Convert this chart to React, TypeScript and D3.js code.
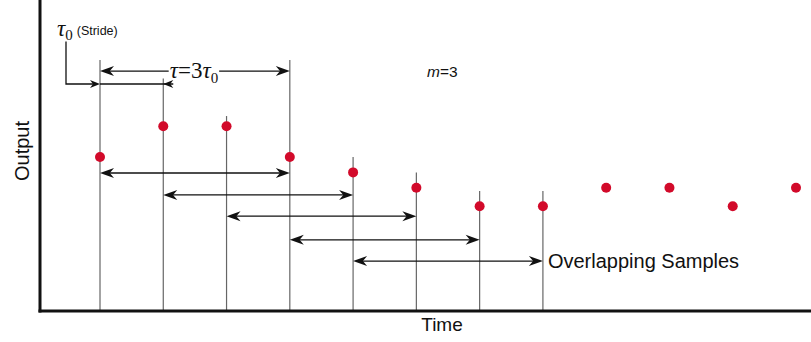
import React, { useEffect, useRef } from 'react';
import * as d3 from 'd3';

// time steps (in units of the stride tau0) and the sampled output
const timeSteps = [1, 2, 3, 4, 5, 6, 7, 8, 9, 10, 11, 12];
const outputs = [5.0, 6.0, 6.0, 5.0, 4.5, 4.0, 3.4, 3.4, 4.0, 4.0, 3.4, 4.0];
// top of the sample stems (output units), only the first eight samples have one
const stemTops = [8.15, 7.55, 6.33, 8.15, 5.0, 4.5, 3.9, 3.9];
// overlapping windows: start step and level of the arrow
const windowStarts = [1, 2, 3, 4, 5];
const windowLevels = [4.48, 3.77, 3.08, 2.31, 1.62];
const m = 3;
const strideLevel = 7.37;
const tauLevel = 7.79;

const W = 811;
const H = 342;

function App() {
  const svgRef = useRef<SVGSVGElement>(null);

  useEffect(() => {
    const svg = d3.select(svgRef.current);
    svg.selectAll('*').remove();

    const axisLeftX = 40;
    const axisBottomY = 311;

    const xScale = d3.scaleLinear().domain([1, 12]).range([100, 796]);
    const yScale = d3.scaleLinear().domain([0, 10]).range([axisBottomY, 3]);

    const black = '#111';
    const sans = '"Liberation Sans", Arial, sans-serif';
    const serif = '"Liberation Serif", serif';

    // arrowhead with a notch, tip at (x,y), dir = 1 right / -1 left
    const head = (x: number, y: number, dir: number, len = 14, half = 5) => {
      const p = d3.path();
      p.moveTo(x, y);
      p.lineTo(x - dir * len, y - half);
      p.lineTo(x - dir * len * 0.7, y);
      p.lineTo(x - dir * len, y + half);
      p.closePath();
      svg.append('path').attr('d', p.toString()).attr('fill', black);
    };

    // stems
    svg.append('g')
      .selectAll('line')
      .data(stemTops)
      .join('line')
      .attr('x1', (d, i) => xScale(timeSteps[i]))
      .attr('x2', (d, i) => xScale(timeSteps[i]))
      .attr('y1', d => yScale(d))
      .attr('y2', axisBottomY)
      .attr('stroke', '#666')
      .attr('stroke-width', 1.2);

    // overlapping windows
    windowStarts.forEach((s, i) => {
      const x1 = xScale(s);
      const x2 = xScale(s + m);
      const y = yScale(windowLevels[i]);
      svg.append('line')
        .attr('x1', x1 + 4).attr('x2', x2 - 4)
        .attr('y1', y).attr('y2', y)
        .attr('stroke', black).attr('stroke-width', 1.3);
      head(x1, y, -1);
      head(x2, y, 1);
    });

    // tau = 3 tau0
    const ty = yScale(tauLevel);
    const tx1 = xScale(1);
    const tx2 = xScale(1 + m);
    svg.append('line')
      .attr('x1', tx1 + 4).attr('x2', tx2 - 4)
      .attr('y1', ty).attr('y2', ty)
      .attr('stroke', black).attr('stroke-width', 1.3);
    head(tx1, ty, -1);
    head(tx2, ty, 1);
    const tauLabel = svg.append('text')
      .attr('x', (tx1 + tx2) / 2 - 1)
      .attr('y', ty + 7)
      .attr('text-anchor', 'middle')
      .attr('font-family', serif)
      .attr('font-size', 23)
      .attr('fill', black);
    tauLabel.append('tspan').attr('font-style', 'italic').text('\u03C4');
    tauLabel.append('tspan').text('=3');
    tauLabel.append('tspan').attr('font-style', 'italic').text('\u03C4');
    tauLabel.append('tspan').attr('font-size', 15).attr('dy', 5).text('0');
    const bb = (tauLabel.node() as SVGTextElement).getBBox();
    svg.insert('rect', 'text')
      .attr('x', bb.x - 1).attr('y', ty - 3)
      .attr('width', bb.width + 2).attr('height', 6)
      .attr('fill', 'white');

    // stride tau0
    const sy = yScale(strideLevel);
    const sx0 = xScale(1) - 34;
    svg.append('path')
      .attr('d', `M${sx0},${yScale(8.75)}V${sy}H${xScale(1) - 3}`)
      .attr('fill', 'none').attr('stroke', black).attr('stroke-width', 1.3);
    head(xScale(1), sy, 1, 10, 4);
    svg.append('line')
      .attr('x1', xScale(1)).attr('x2', xScale(2) + 10)
      .attr('y1', sy).attr('y2', sy)
      .attr('stroke', black).attr('stroke-width', 1.3);
    head(xScale(2), sy, -1, 10, 4);
    const strideLabel = svg.append('text')
      .attr('x', sx0 - 9)
      .attr('y', 36)
      .attr('fill', black);
    strideLabel.append('tspan')
      .attr('font-family', serif)
      .attr('font-style', 'italic')
      .attr('font-size', 23)
      .text('\u03C4');
    strideLabel.append('tspan')
      .attr('font-family', serif)
      .attr('font-size', 15).attr('dy', 4)
      .text('0');
    strideLabel.append('tspan')
      .attr('font-family', sans)
      .attr('font-size', 12.5).attr('dy', -5).attr('dx', 4)
      .text('(Stride)');

    // m = 3
    const mLabel = svg.append('text')
      .attr('x', 427).attr('y', 77)
      .attr('font-family', sans)
      .attr('font-size', 15.5)
      .attr('fill', black);
    mLabel.append('tspan').attr('font-style', 'italic').text('m');
    mLabel.append('tspan').text(`=${m}`);

    // samples
    svg.append('g')
      .selectAll('circle')
      .data(outputs)
      .join('circle')
      .attr('cx', (d, i) => xScale(timeSteps[i]))
      .attr('cy', d => yScale(d))
      .attr('r', 5)
      .attr('fill', '#d20a2a');

    // axes
    svg.append('line')
      .attr('x1', axisLeftX).attr('x2', axisLeftX)
      .attr('y1', 0).attr('y2', axisBottomY + 1.5)
      .attr('stroke', black).attr('stroke-width', 3);
    svg.append('line')
      .attr('x1', axisLeftX - 1.5).attr('x2', W)
      .attr('y1', axisBottomY).attr('y2', axisBottomY)
      .attr('stroke', black).attr('stroke-width', 3);

    svg.append('text')
      .attr('x', 442).attr('y', 331)
      .attr('text-anchor', 'middle')
      .attr('font-family', sans).attr('font-size', 19)
      .attr('fill', black)
      .text('Time');

    svg.append('text')
      .attr('transform', `translate(29,151) rotate(-90)`)
      .attr('text-anchor', 'middle')
      .attr('font-family', sans).attr('font-size', 20)
      .attr('fill', black)
      .text('Output');

    svg.append('text')
      .attr('x', xScale(8) + 5).attr('y', yScale(windowLevels[4]) + 7)
      .attr('font-family', sans).attr('font-size', 20)
      .attr('fill', black)
      .text('Overlapping Samples');
  }, []);

  return (
    <svg
      ref={svgRef}
      width={W}
      height={H}
      style={{ position: 'absolute', left: 0, top: 0, background: 'white' }}
    />
  );
}

export default App;
